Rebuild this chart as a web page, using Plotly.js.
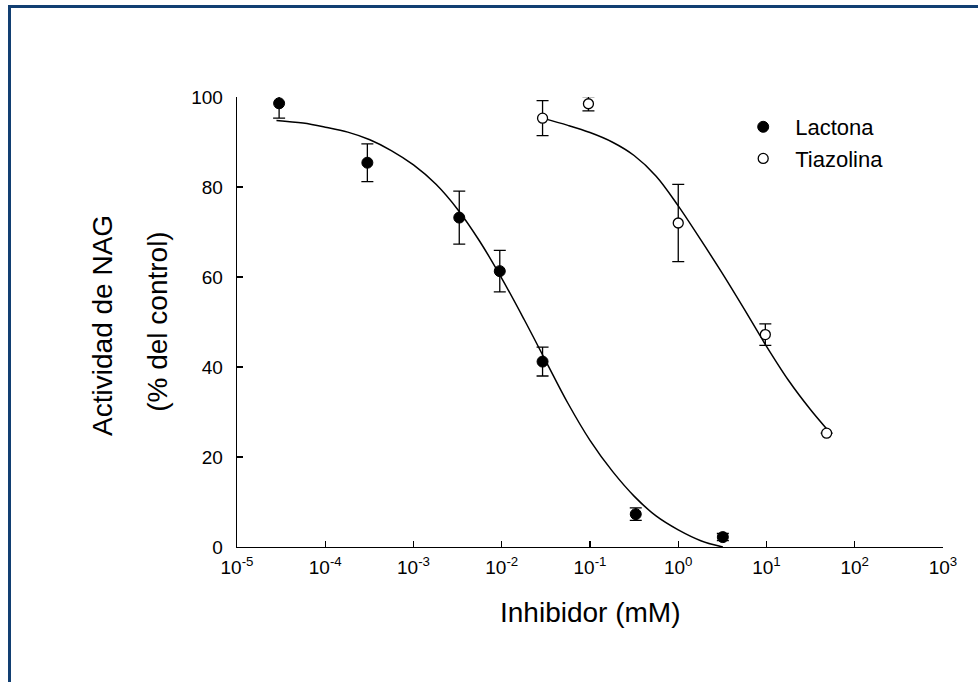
<!DOCTYPE html>
<html>
<head>
<meta charset="utf-8">
<script src="https://cdn.plot.ly/plotly-3.0.1.min.js"></script>
<style>
  html, body { margin: 0; padding: 0; background: #ffffff; }
  #wrap { position: relative; width: 978px; height: 682px; overflow: hidden; }
  #chart { position: absolute; left: 0; top: 0; width: 978px; height: 682px; }
  #frame {
    position: absolute; left: 8px; top: 5px; width: 1000px; height: 700px;
    border-top: 3px solid #123f72; border-left: 3px solid #123f72;
    pointer-events: none; z-index: 10;
  }
</style>
</head>
<body>
<div id="wrap">
  <div id="chart"></div>
  <div id="frame"></div>
</div>
<script>
// Inhibitor concentration (mM) vs NAG activity (% of control), mean ± error
const lactonaConc = [3e-5, 3e-4, 3.3e-3, 0.0095, 0.029, 0.33, 3.2];
const lactonaAct  = [98.6, 85.4, 73.2, 61.3, 41.2, 7.3, 2.2];
const lactonaErr  = [3.3, 4.2, 5.9, 4.6, 3.2, 1.4, 0.8];

const tiazolinaConc = [0.029, 0.096, 1.0, 9.7, 48];
const tiazolinaAct  = [95.3, 98.5, 72.0, 47.2, 25.3];
const tiazolinaErr  = [3.9, 1.6, 8.6, 2.4, 0];

// Fitted dose-response curves
const lactonaFitConc = [2.8e-5, 5.6e-5, 1e-4, 1.8e-4, 3.2e-4, 5.6e-4, 1e-3, 1.8e-3, 3.2e-3,
                        5.6e-3, 1e-2, 1.8e-2, 3.2e-2, 5.6e-2, 0.1, 0.18, 0.32, 0.56, 1, 1.8, 3.2];
const lactonaFitAct  = [94.8, 94.2, 93.3, 92.2, 90.5, 88.1, 84.9, 80.6, 74.9,
                        68.0, 59.7, 50.5, 41.1, 32.0, 23.7, 16.8, 11.2, 6.9, 3.8, 1.4, 0.0];

const tiazolinaFitConc = [0.0288, 0.0562, 0.1, 0.178, 0.316, 0.562, 1, 1.78, 3.16, 5.62, 10, 17.8, 31.6, 47.9];
const tiazolinaFitAct  = [95.3, 93.7, 92.1, 90.0, 87.0, 82.4, 75.8, 68.4, 60.8, 52.8, 44.6, 37.0, 30.5, 26.3];

// Axis ticks
const xTickVals = [1e-5, 1e-4, 1e-3, 1e-2, 1e-1, 1e0, 1e1, 1e2, 1e3];
const xTickText = ['10<sup>-5</sup>', '10<sup>-4</sup>', '10<sup>-3</sup>', '10<sup>-2</sup>',
                   '10<sup>-1</sup>', '10<sup>0</sup>', '10<sup>1</sup>', '10<sup>2</sup>', '10<sup>3</sup>'];
const yTickVals = [0, 20, 40, 60, 80, 100];

const seriesNames = ['Lactona', 'Tiazolina'];

const FONT = '"Liberation Sans", Arial, Helvetica, sans-serif';
const errStyle = { type: 'data', visible: true, thickness: 1.3, width: 6, color: '#000000' };

const traces = [
  {
    x: lactonaFitConc, y: lactonaFitAct, type: 'scatter', mode: 'lines',
    line: { color: '#000000', width: 1.5, shape: 'spline', smoothing: 1 },
    showlegend: false, hoverinfo: 'skip'
  },
  {
    x: tiazolinaFitConc, y: tiazolinaFitAct, type: 'scatter', mode: 'lines',
    line: { color: '#000000', width: 1.5, shape: 'spline', smoothing: 1 },
    showlegend: false, hoverinfo: 'skip'
  },
  {
    name: seriesNames[0], x: lactonaConc, y: lactonaAct, type: 'scatter', mode: 'markers',
    marker: { symbol: 'circle', size: 11, color: '#000000', line: { color: '#000000', width: 1 } },
    error_y: Object.assign({ array: lactonaErr }, errStyle)
  },
  {
    name: seriesNames[1], x: tiazolinaConc, y: tiazolinaAct, type: 'scatter', mode: 'markers',
    marker: { symbol: 'circle', size: 10, color: '#ffffff', line: { color: '#000000', width: 1.3 } },
    error_y: Object.assign({ array: tiazolinaErr }, errStyle)
  }
];

const layout = {
  width: 978, height: 682,
  margin: { l: 237, r: 35, t: 97, b: 135, pad: 0 },
  paper_bgcolor: '#ffffff', plot_bgcolor: '#ffffff',
  font: { family: FONT, color: '#000000', size: 19 },
  showlegend: true,
  legend: {
    x: 0.70, y: 0.98, xanchor: 'left', yanchor: 'top',
    font: { family: FONT, size: 22, color: '#000000' },
    bgcolor: 'rgba(0,0,0,0)', borderwidth: 0, itemwidth: 54,
    traceorder: 'normal'
  },
  xaxis: {
    type: 'log', range: [-5, 3],
    tickmode: 'array', tickvals: xTickVals, ticktext: xTickText,
    ticks: 'inside', ticklen: 6, tickwidth: 1.3, tickcolor: '#000000',
    showline: true, linecolor: '#000000', linewidth: 1.3,
    showgrid: false, zeroline: false, mirror: false,
    tickfont: { family: FONT, size: 19, color: '#000000' },
    ticklabelstandoff: 3
  },
  yaxis: {
    range: [0, 100],
    tickmode: 'array', tickvals: yTickVals,
    ticks: 'inside', ticklen: 6, tickwidth: 1.3, tickcolor: '#000000',
    showline: true, linecolor: '#000000', linewidth: 1.3,
    showgrid: false, zeroline: false, mirror: false,
    tickfont: { family: FONT, size: 19, color: '#000000' },
    ticklabelstandoff: 9
  },
  annotations: [
    {
      text: 'Inhibidor (mM)', xref: 'paper', yref: 'paper', x: 0.5, y: -0.1466,
      xanchor: 'center', yanchor: 'middle', showarrow: false,
      font: { family: FONT, size: 28, color: '#000000' }
    },
    {
      text: 'Actividad de NAG', xref: 'paper', yref: 'paper', x: -0.1916, y: 0.493,
      xanchor: 'center', yanchor: 'middle', textangle: -90, showarrow: false,
      font: { family: FONT, size: 28, color: '#000000' }
    },
    {
      text: '(% del control)', xref: 'paper', yref: 'paper', x: -0.1137, y: 0.502,
      xanchor: 'center', yanchor: 'middle', textangle: -90, showarrow: false,
      font: { family: FONT, size: 28, color: '#000000' }
    }
  ]
};

Plotly.newPlot('chart', traces, layout, { displayModeBar: false, staticPlot: true });
</script>
</body>
</html>
